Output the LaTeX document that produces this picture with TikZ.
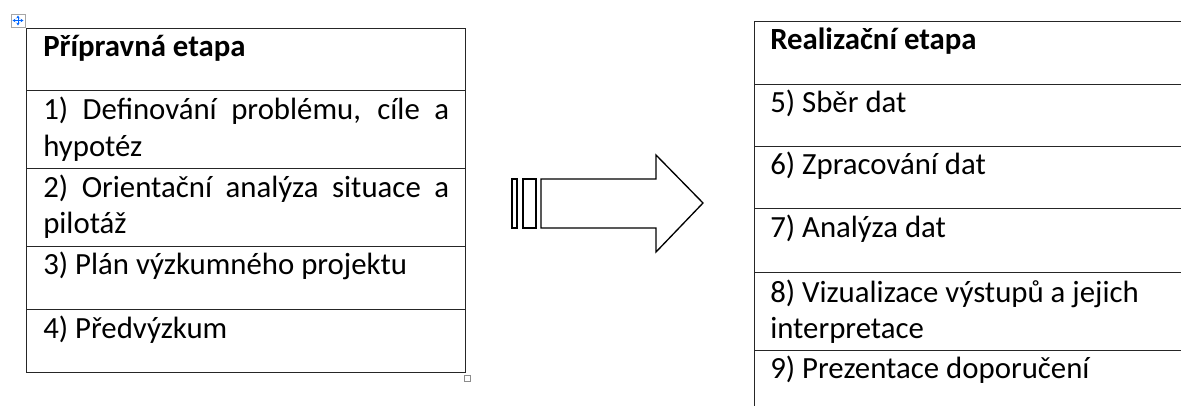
\documentclass[tikz,border=0pt]{standalone}
\usepackage{fontspec}
\setmainfont{Carlito}
\usetikzlibrary{arrows.meta}
\begin{document}
\begin{tikzpicture}[x=0.75pt,y=-0.75pt,
  cellbox/.style={draw=black!85, line width=0.8pt, anchor=north west, inner sep=0pt},
  txt/.style={anchor=base west, inner sep=0pt, font=\fontsize{23.1}{27.5}\selectfont},
  arrowline/.style={draw=black, line width=1pt, line join=miter}]
\useasboundingbox (0,0) rectangle (1181,406);
\clip (0,0) rectangle (1181,406);
% left table
\node[cellbox, minimum width=439*0.75pt, minimum height=62*0.75pt] (L0) at (26,28) {};
\node[cellbox, minimum width=439*0.75pt, minimum height=78*0.75pt] (L1) at (26,90) {};
\node[cellbox, minimum width=439*0.75pt, minimum height=78*0.75pt] (L2) at (26,168) {};
\node[cellbox, minimum width=439*0.75pt, minimum height=63*0.75pt] (L3) at (26,246) {};
\node[cellbox, minimum width=439*0.75pt, minimum height=63*0.75pt] (L4) at (26,309) {};
\node[txt] (tL0) at (43,57) {\parbox[t]{304.5pt}{\bfseries Přípravná etapa}};
\node[txt] (tL1) at (43,120) {\parbox[t]{304.5pt}{1) Definování problému, cíle a\linebreak hypotéz}};
\node[txt] (tL2) at (43,197) {\parbox[t]{304.5pt}{2) Orientační analýza situace a\linebreak pilotáž}};
\node[txt] (tL3) at (43,274) {\parbox[t]{304.5pt}{3) Plán výzkumného projektu}};
\node[txt] (tL4) at (43,338) {\parbox[t]{304.5pt}{4) Předvýzkum}};
% right table
\node[cellbox, minimum width=460*0.75pt, minimum height=63*0.75pt] (R0) at (754,21) {};
\node[cellbox, minimum width=460*0.75pt, minimum height=62*0.75pt] (R1) at (754,84) {};
\node[cellbox, minimum width=460*0.75pt, minimum height=62*0.75pt] (R2) at (754,146) {};
\node[cellbox, minimum width=460*0.75pt, minimum height=64*0.75pt] (R3) at (754,208) {};
\node[cellbox, minimum width=460*0.75pt, minimum height=78*0.75pt] (R4) at (754,272) {};
\node[cellbox, minimum width=460*0.75pt, minimum height=80*0.75pt] (R5) at (754,350) {};
\node[txt] (tR0) at (770,50) {\parbox[t]{320pt}{\bfseries Realizační etapa}};
\node[txt] (tR1) at (770,113) {\parbox[t]{320pt}{5) Sběr dat}};
\node[txt] (tR2) at (770,175) {\parbox[t]{320pt}{6) Zpracování dat}};
\node[txt] (tR3) at (770,237) {\parbox[t]{320pt}{7) Analýza dat}};
\node[txt] (tR4) at (770,302) {\parbox[t]{320pt}{\raggedright 8) Vizualizace výstupů a jejich\\interpretace}};
\node[txt] (tR5) at (770,378) {\parbox[t]{320pt}{9) Prezentace doporučení}};
% block arrow
\draw[arrowline] (512,179) rectangle (517,228);
\draw[arrowline] (523,179) rectangle (536,228);
\draw[arrowline] (541,179) -- (656,179) -- (656,155) -- (703,203) -- (656,252) -- (656,228) -- (541,228) -- cycle;
% move handle and resize handle
\draw[draw=black!35, line width=0.6pt, fill=white] (11,14) rectangle (25,27);
\draw[draw=blue!60!cyan, line width=0.7pt, -{Stealth[length=2.2pt,width=2.6pt]}] (18,20.5) -- (18,15.5);
\draw[draw=blue!60!cyan, line width=0.7pt, -{Stealth[length=2.2pt,width=2.6pt]}] (18,20.5) -- (18,25.5);
\draw[draw=blue!60!cyan, line width=0.7pt, -{Stealth[length=2.2pt,width=2.6pt]}] (18,20.5) -- (12.5,20.5);
\draw[draw=blue!60!cyan, line width=0.7pt, -{Stealth[length=2.2pt,width=2.6pt]}] (18,20.5) -- (23.5,20.5);
\draw[draw=black!45, line width=0.6pt, fill=white] (464.5,375) rectangle (470.5,381);
\end{tikzpicture}
\end{document}
